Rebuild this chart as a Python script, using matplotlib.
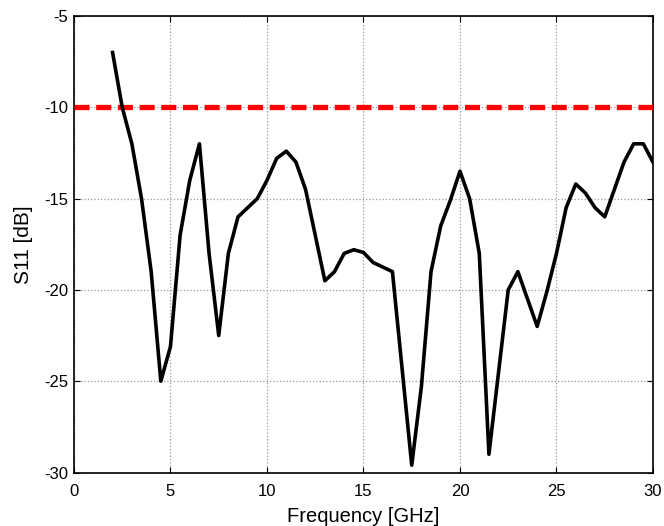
import matplotlib
matplotlib.use("Agg")
import matplotlib.pyplot as plt
import numpy as np

freq_ghz = [2, 2.5, 3, 3.5, 4, 4.5, 5, 5.5, 6, 6.5, 7, 7.5, 8, 8.5, 9, 9.5,
            10, 10.5, 11, 11.5, 12, 12.5, 13, 13.5, 14, 14.5, 15, 15.5, 16, 16.5,
            17, 17.5, 18, 18.5, 19, 19.5, 20, 20.5, 21, 21.5, 22, 22.5, 23, 23.5,
            24, 24.5, 25, 25.5, 26, 26.5, 27, 27.5, 28, 28.5, 29, 29.5, 30]
s11_db = [-7, -10, -12, -15, -19, -25, -23.1, -17, -14, -12, -18, -22.5, -18, -16,
          -15.5, -15, -14, -12.8, -12.4, -13, -14.5, -17, -19.5, -19, -18, -17.8,
          -17.95, -18.5, -18.75, -19, -24.3, -29.6, -25.3, -19, -16.5, -15.1, -13.5,
          -15, -18, -29, -24.5, -20, -19, -20.5, -22, -20.1, -18, -15.5, -14.2,
          -14.7, -15.5, -16, -14.5, -13, -12, -12, -13]
threshold_x = [0, 30]
threshold_db = [-10, -10]
x_ticks = [0, 5, 10, 15, 20, 25, 30]
y_ticks = [-30, -25, -20, -15, -10, -5]

plt.rcParams['font.family'] = ['Liberation Sans', 'DejaVu Sans']
plt.rcParams['axes.unicode_minus'] = False

fig = plt.figure(figsize=(6.64, 5.26), dpi=100)
ax = fig.add_axes([0.1114, 0.1017, 0.9834 - 0.1114, 0.9696 - 0.1017])

ax.plot(threshold_x, threshold_db, color='#ff0000', lw=3.8, dashes=(2.85, 1.26), zorder=3)
ax.plot(freq_ghz, s11_db, color='black', lw=2.6, zorder=4)

ax.set_xlim(0, 30)
ax.set_ylim(-30, -5)
ax.set_xticks(x_ticks)
ax.set_yticks(y_ticks)
ax.grid(True, color='#999999', linestyle=':', lw=0.9)
ax.tick_params(direction='in', length=4, width=0.8, labelsize=12, top=True, right=True)
ax.tick_params(axis='x', pad=8)
ax.tick_params(axis='y', pad=4)
for s in ax.spines.values():
    s.set_linewidth(1.2)
ax.set_xlabel('Frequency [GHz]', fontsize=14.5, labelpad=6)
ax.set_ylabel('S11 [dB]', fontsize=15, labelpad=8)

fig.savefig('out.png', dpi=100)
